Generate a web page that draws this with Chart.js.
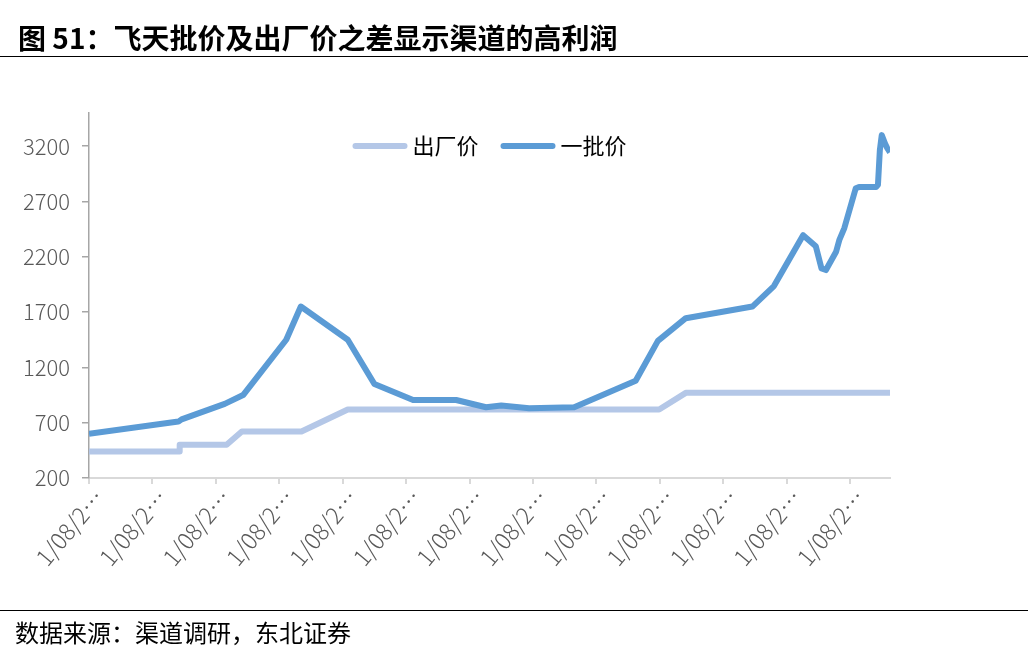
<!DOCTYPE html>
<html><head><meta charset="utf-8">
<script src="https://cdn.jsdelivr.net/npm/chart.js@4.4.0/dist/chart.umd.min.js"></script>
<style>
html,body{margin:0;padding:0;background:#fff;}
body{width:1028px;height:658px;position:relative;overflow:hidden;font-family:"Noto Sans CJK SC",sans-serif;}
#title{position:absolute;left:18px;top:17px;font-size:28px;font-weight:bold;color:#000;line-height:40px;white-space:nowrap;}
#tline{position:absolute;left:0;top:56px;width:1028px;height:0;border-top:1.5px solid #000;}
#fline{position:absolute;left:0;top:610px;width:1028px;height:0;border-top:1.5px solid #000;}
#foot{position:absolute;left:15px;top:614px;font-size:24px;line-height:36px;color:#000;white-space:nowrap;}
#c{position:absolute;left:0;top:0;}
</style></head>
<body>
<canvas id="c" width="1028" height="658"></canvas>
<div id="title">图 51：飞天批价及出厂价之差显示渠道的高利润</div>
<div id="tline"></div>
<div id="fline"></div>
<div id="foot">数据来源：渠道调研，东北证券</div>
<script>
// tick labels (x axis, in tick units 0..12)
const tickLabels = ['1/08/2…','1/08/2…','1/08/2…','1/08/2…','1/08/2…','1/08/2…','1/08/2…','1/08/2…','1/08/2…','1/08/2…','1/08/2…','1/08/2…','1/08/2…'];
const yTickValues = [200, 700, 1200, 1700, 2200, 2700, 3200];
// 出厂价 series (x in tick units, y value)
const factoryX = [0, 1.42, 1.43, 2.17, 2.41, 3.35, 4.08, 8.99, 9.41, 12.63];
const factoryY = [440, 440, 500, 500, 620, 620, 820, 820, 970, 970];
// 一批价 series
const wholesaleX = [0, 1.41, 1.46, 2.14, 2.43, 3.11, 3.34, 4.08, 4.50, 5.11, 5.79, 6.26, 6.50, 6.94, 7.65, 8.62, 8.97, 9.41, 10.46, 10.80, 11.26, 11.46, 11.55, 11.62, 11.78, 11.83, 11.91, 12.09, 12.14, 12.41, 12.44, 12.47, 12.50, 12.55, 12.58, 12.63];
const wholesaleY = [600, 710, 730, 870, 950, 1450, 1750, 1450, 1050, 905, 905, 840, 855, 830, 840, 1080, 1440, 1645, 1750, 1935, 2395, 2295, 2095, 2080, 2245, 2350, 2460, 2820, 2830, 2830, 2850, 3165, 3300, 3225, 3190, 3145];
const seriesNames = ['出厂价', '一批价'];

const tickFont = {family:'"Noto Sans CJK SC", sans-serif', size:22, weight:'300'};
const xTickFont = {family:'"Noto Sans CJK SC", sans-serif', size:23, weight:'300'};

const inlineLegend = {
  id:'inlineLegend',
  afterDraw(chart){
    const ctx = chart.ctx, ca = chart.chartArea;
    ctx.save();
    ctx.font = '22px "Noto Sans CJK SC", sans-serif';
    const lineLen = 55, textGap = 5, itemGap = 22;
    const items = chart.data.datasets.map(d => ({label:d.label, color:d.borderColor, w: lineLen + textGap + ctx.measureText(d.label).width}));
    const total = items.reduce((a,b)=>a+b.w, 0) + itemGap*(items.length-1);
    let x = (ca.left + ca.right)/2 - total/2;
    const y = ca.top + 33;
    items.forEach(it => {
      ctx.strokeStyle = it.color; ctx.lineWidth = 6; ctx.lineCap = 'round';
      ctx.beginPath(); ctx.moveTo(x+3, y); ctx.lineTo(x+lineLen-3, y); ctx.stroke();
      ctx.fillStyle = '#000'; ctx.textBaseline = 'middle'; ctx.textAlign = 'left';
      ctx.fillText(it.label, x + lineLen + textGap, y);
      x += it.w + itemGap;
    });
    ctx.restore();
  }
};

new Chart(document.getElementById('c'), {
  type: 'line',
  data: {
    datasets: [
      {label: seriesNames[0], data: factoryX.map((x,i)=>({x:x, y:factoryY[i]})),
       borderColor:'#B4C7E7', backgroundColor:'#B4C7E7', borderWidth:6, pointRadius:0,
       tension:0, borderJoinStyle:'round', borderCapStyle:'butt', order:2},
      {label: seriesNames[1], data: wholesaleX.map((x,i)=>({x:x, y:wholesaleY[i]})),
       borderColor:'#5B9BD5', backgroundColor:'#5B9BD5', borderWidth:6, pointRadius:0,
       tension:0, borderJoinStyle:'round', borderCapStyle:'butt', order:1}
    ]
  },
  plugins: [inlineLegend],
  options: {
    responsive:false, animation:false, events:[],
    layout:{padding:{left:0, right:138, top:113, bottom:0}},
    scales: {
      x: {
        type:'linear', min:0, max:12.63,
        afterBuildTicks: s => { s.ticks = tickLabels.map((_, i) => ({value:i})); },
        afterFit: s => { s.height = 180; },
        ticks: {stepSize:1, autoSkip:false, maxRotation:50, minRotation:50, labelOffset:10,
          callback: v => tickLabels[Math.round(v)], font: xTickFont, color:'#595959', padding:0},
        grid: {display:true, drawOnChartArea:false, drawTicks:true, tickLength:6, color:'#D9D9D9', lineWidth:2},
        border: {display:true, color:'#D9D9D9', width:2}
      },
      y: {
        min:200, max:3500,
        afterBuildTicks: s => { s.ticks = yTickValues.map(v => ({value:v})); },
        afterFit: s => { s.width = 89; },
        ticks: {font: tickFont, color:'#595959', padding:12, callback: v => String(v)},
        grid: {display:true, drawOnChartArea:false, drawTicks:true, tickLength:7, color:'#A6A6A6', lineWidth:1.5},
        border: {display:true, color:'#A6A6A6', width:1.5}
      }
    },
    plugins: {
      tooltip:{enabled:false},
      legend:{display:false}
    }
  }
});
</script>
</body></html>
